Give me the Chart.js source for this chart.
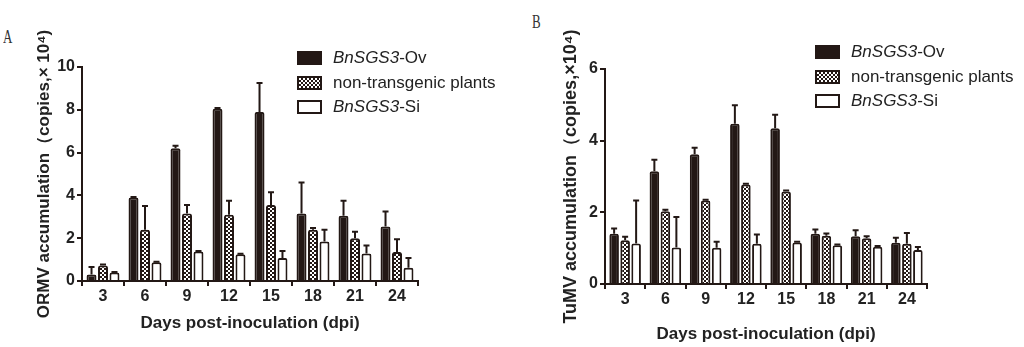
<!DOCTYPE html>
<html>
<head>
<meta charset="utf-8">
<script src="https://cdn.jsdelivr.net/npm/chart.js@4.4.1/dist/chart.umd.min.js"></script>
<style>
  body { margin: 0; background: #fff; width: 1024px; height: 347px; overflow: hidden; position: relative; font-family: "Liberation Sans", Arial, sans-serif; }
  canvas { position: absolute; top: 0; }
  #chartA { left: 0; }
  #chartB { left: 512px; }
  .panel { position: absolute; font-family: "Liberation Serif", "DejaVu Serif", serif; font-size: 18px; color: #333; transform: scaleX(0.72); transform-origin: 0 0; }
  .legend { position: absolute; font-size: 17px; color: #222; }
  .legend div { height: 24.5px; line-height: 24.5px; white-space: nowrap; }
  .sw { display: inline-block; width: 21px; height: 10px; border: 2.5px solid #231815; vertical-align: -2px; margin-right: 11px; box-sizing: content-box; }
  .sw.ov { background: #231815; }
  .sw.nt { background: repeating-conic-gradient(#231815 0 25%, #fff 0 50%) 0 0 / 4px 4px; }
  .sw.si { background: #fff; }
</style>
</head>
<body>
<div class="panel" style="left:3px; top:27px;">A</div>
<div class="panel" style="left:532px; top:12px;">B</div>

<canvas id="chartA" width="512" height="347"></canvas>
<canvas id="chartB" width="512" height="347"></canvas>

<div class="legend" style="left:297px; top:46px;">
  <div><span class="sw ov"></span><i>BnSGS3</i>-Ov</div>
  <div><span class="sw nt"></span>non-transgenic plants</div>
  <div><span class="sw si"></span><i>BnSGS3</i>-Si</div>
</div>
<div class="legend" style="left:815px; top:40px;">
  <div><span class="sw ov"></span><i>BnSGS3</i>-Ov</div>
  <div><span class="sw nt"></span>non-transgenic plants</div>
  <div><span class="sw si"></span><i>BnSGS3</i>-Si</div>
</div>

<script>
	let days = ['3', '6', '9', '12', '15', '18', '21', '24'];
	let seriesNames = ['BnSGS3-Ov', 'non-transgenic plants', 'BnSGS3-Si'];

	// panel A, ORMV (copies x 10^4)
	let ormvOv = [0.3, 3.9, 6.2, 8.05, 7.9, 3.15, 3.05, 2.55];
	let ormvOvErr = [0.35, 0.03, 0.12, 0.03, 1.35, 1.45, 0.7, 0.7];
	let ormvNt = [0.72, 2.4, 3.15, 3.1, 3.55, 2.4, 2.0, 1.35];
	let ormvNtErr = [0.05, 1.1, 0.4, 0.65, 0.6, 0.08, 0.3, 0.6];
	let ormvSi = [0.4, 0.88, 1.38, 1.25, 1.08, 1.85, 1.28, 0.62];
	let ormvSiErr = [0.02, 0.02, 0.02, 0.02, 0.32, 0.55, 0.38, 0.45];

	// panel B, TuMV (copies x 10^4)
	let tumvOv = [1.4, 3.15, 3.62, 4.47, 4.35, 1.4, 1.33, 1.15];
	let tumvOvErr = [0.15, 0.32, 0.18, 0.52, 0.37, 0.12, 0.17, 0.14];
	let tumvNt = [1.22, 2.03, 2.33, 2.78, 2.58, 1.35, 1.28, 1.12];
	let tumvNtErr = [0.1, 0.04, 0.02, 0.02, 0.03, 0.06, 0.05, 0.3];
	let tumvSi = [1.13, 1.02, 1.01, 1.12, 1.16, 1.08, 1.04, 0.95];
	let tumvSiErr = [1.2, 0.85, 0.17, 0.26, 0.02, 0.02, 0.02, 0.08];

	let ink = '#231815';

	function checkerPattern() {
		let c = document.createElement('canvas');
		c.width = 4;
		c.height = 4;
		let g = c.getContext('2d');
		g.fillStyle = '#fff';
		g.fillRect(0, 0, 4, 4);
		g.fillStyle = ink;
		g.fillRect(0, 0, 2, 2);
		g.fillRect(2, 2, 2, 2);
		return g.createPattern(c, 'repeat');
	}

	// upper error bars, drawn through the y scale
	let errorBars = {
		id: 'errorBars',
		afterDatasetsDraw(chart) {
			let ctx = chart.ctx;
			let yScale = chart.scales.y;
			ctx.save();
			ctx.strokeStyle = ink;
			ctx.lineWidth = 2;
			chart.data.datasets.forEach(function(ds, i) {
				let meta = chart.getDatasetMeta(i);
				meta.data.forEach(function(bar, k) {
					let top = yScale.getPixelForValue(ds.data[k] + ds.errors[k]);
					ctx.beginPath();
					ctx.moveTo(bar.x, bar.y);
					ctx.lineTo(bar.x, top);
					ctx.moveTo(bar.x - 3, top);
					ctx.lineTo(bar.x + 3, top);
					ctx.stroke();
				});
			});
			ctx.restore();
		}
	};

	function makeDatasets(ov, ovErr, nt, ntErr, si, siErr) {
		let base = { borderColor: ink, borderWidth: 2, borderSkipped: 'bottom', borderRadius: 2 };
		return [
			Object.assign({ label: seriesNames[0], data: ov, errors: ovErr, backgroundColor: ink }, base),
			Object.assign({ label: seriesNames[1], data: nt, errors: ntErr, backgroundColor: checkerPattern() }, base),
			Object.assign({ label: seriesNames[2], data: si, errors: siErr, backgroundColor: '#fff' }, base)
		];
	}

	function makeChart(id, datasets, yMax, yTitle, layout) {
		return new Chart(document.getElementById(id), {
			type: 'bar',
			data: { labels: days, datasets: datasets },
			plugins: [errorBars],
			options: {
				responsive: false,
				animation: false,
				layout: { padding: { left: 0, right: layout.right, top: layout.top, bottom: 0 } },
				datasets: { bar: { categoryPercentage: 0.82, barPercentage: 0.87 } },
				plugins: { legend: { display: false }, tooltip: { enabled: false } },
				scales: {
					x: {
						grid: { display: true, drawOnChartArea: false, tickLength: 5, tickColor: ink, lineWidth: 2 },
						border: { color: ink, width: 2 },
						ticks: { color: '#222', font: { family: 'Liberation Sans', size: 16, weight: 'bold' }, padding: 1 },
						title: { display: true, text: 'Days post-inoculation (dpi)', color: '#222', font: { family: 'Liberation Sans', size: 17, weight: 'bold' }, padding: { top: 0, bottom: layout.xTitlePad } },
						afterFit: function(scale) { scale.height = layout.xHeight; }
					},
					y: {
						min: 0,
						max: yMax,
						grid: { display: true, drawOnChartArea: false, tickLength: 5, tickColor: ink, lineWidth: 2 },
						border: { color: ink, width: 2 },
						ticks: { stepSize: 2, color: '#222', font: { family: 'Liberation Sans', size: 16, weight: 'bold' }, padding: 2 },
						title: { display: true, text: yTitle, color: '#222', font: { family: 'Liberation Sans', size: layout.yTitleSize, weight: 'bold' }, padding: { top: layout.yTitlePad, bottom: 0 } },
						afterFit: function(scale) { scale.width = layout.yWidth; }
					}
				}
			}
		});
	}

	makeChart('chartA', makeDatasets(ormvOv, ormvOvErr, ormvNt, ormvNtErr, ormvSi, ormvSiErr), 10,
		'ORMV accumulation（copies,× 10⁴)',
		{ right: 94, top: 67, xHeight: 66, xTitlePad: 13, yWidth: 82, yTitlePad: 34, yTitleSize: 17 });

	makeChart('chartB', makeDatasets(tumvOv, tumvOvErr, tumvNt, tumvNtErr, tumvSi, tumvSiErr), 6,
		'TuMV accumulation（copies,×10⁴)',
		{ right: 97, top: 69, xHeight: 63, xTitlePad: 2, yWidth: 93, yTitlePad: 48, yTitleSize: 18 });
</script>
</body>
</html>
